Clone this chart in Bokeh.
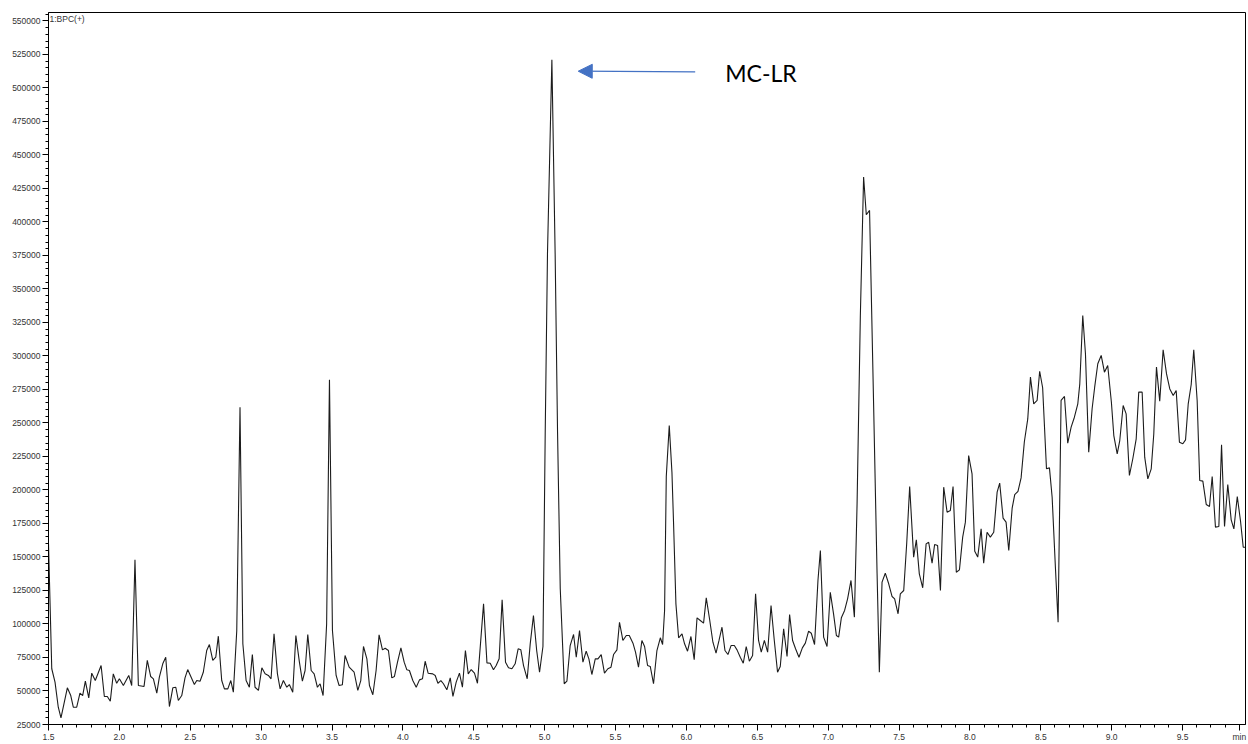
from bokeh.plotting import figure
from bokeh.models import (Range1d, SingleIntervalTicker, FixedTicker, PrintfTickFormatter, Label,
                          Arrow, NormalHead, ColumnDataSource)
from bokeh.embed import file_html
from bokeh.resources import INLINE

# Retention time (min)
time_min = [
    1.500, 1.523, 1.546, 1.569, 1.588, 1.609, 1.633, 1.657, 1.675, 1.699,
    1.722, 1.741, 1.760, 1.784, 1.805, 1.830, 1.871, 1.894, 1.915, 1.936,
    1.957, 1.981, 2.000, 2.028, 2.066, 2.087, 2.110, 2.134, 2.174, 2.197,
    2.221, 2.240, 2.264, 2.282, 2.306, 2.327, 2.353, 2.377, 2.398, 2.416,
    2.440, 2.463, 2.482, 2.529, 2.546, 2.569, 2.592, 2.616, 2.635, 2.659,
    2.680, 2.698, 2.722, 2.741, 2.765, 2.786, 2.804, 2.828, 2.851, 2.871,
    2.894, 2.917, 2.938, 2.957, 2.981, 3.005, 3.028, 3.051, 3.070, 3.091,
    3.115, 3.134, 3.157, 3.181, 3.199, 3.223, 3.245, 3.270, 3.291, 3.310,
    3.329, 3.353, 3.374, 3.397, 3.416, 3.437, 3.462, 3.482, 3.503, 3.529,
    3.550, 3.573, 3.592, 3.621, 3.656, 3.682, 3.703, 3.722, 3.746, 3.764,
    3.788, 3.811, 3.832, 3.856, 3.875, 3.898, 3.922, 3.940, 3.962, 3.986,
    4.009, 4.028, 4.046, 4.070, 4.094, 4.117, 4.138, 4.157, 4.178, 4.211,
    4.228, 4.247, 4.268, 4.286, 4.310, 4.334, 4.353, 4.376, 4.399, 4.420,
    4.441, 4.461, 4.482, 4.505, 4.526, 4.569, 4.593, 4.616, 4.639, 4.658,
    4.679, 4.700, 4.724, 4.745, 4.769, 4.792, 4.813, 4.832, 4.851, 4.877,
    4.898, 4.921, 4.944, 4.964, 4.988, 5.004, 5.020, 5.051, 5.074, 5.091,
    5.110, 5.138, 5.157, 5.180, 5.204, 5.223, 5.246, 5.270, 5.293, 5.312,
    5.333, 5.357, 5.376, 5.399, 5.422, 5.446, 5.468, 5.486, 5.510, 5.528,
    5.552, 5.576, 5.597, 5.623, 5.641, 5.662, 5.686, 5.705, 5.726, 5.745,
    5.768, 5.792, 5.816, 5.832, 5.846, 5.858, 5.879, 5.898, 5.909, 5.926,
    5.945, 5.969, 5.987, 6.008, 6.032, 6.055, 6.075, 6.098, 6.121, 6.140,
    6.163, 6.187, 6.209, 6.230, 6.251, 6.272, 6.293, 6.315, 6.338, 6.357,
    6.380, 6.401, 6.422, 6.444, 6.467, 6.488, 6.509, 6.528, 6.550, 6.573,
    6.597, 6.620, 6.643, 6.662, 6.686, 6.710, 6.728, 6.749, 6.770, 6.794,
    6.818, 6.839, 6.862, 6.881, 6.904, 6.928, 6.945, 6.968, 6.992, 7.015,
    7.038, 7.058, 7.074, 7.093, 7.116, 7.137, 7.161, 7.185, 7.204, 7.227,
    7.250, 7.269, 7.292, 7.321, 7.345, 7.361, 7.380, 7.403, 7.427, 7.451,
    7.469, 7.493, 7.509, 7.533, 7.554, 7.575, 7.603, 7.622, 7.643, 7.667,
    7.691, 7.709, 7.733, 7.751, 7.772, 7.792, 7.815, 7.839, 7.862, 7.881,
    7.904, 7.926, 7.949, 7.968, 7.991, 8.015, 8.034, 8.055, 8.079, 8.097,
    8.121, 8.144, 8.168, 8.192, 8.210, 8.234, 8.255, 8.274, 8.298, 8.316,
    8.339, 8.361, 8.384, 8.408, 8.427, 8.450, 8.474, 8.492, 8.513, 8.540,
    8.561, 8.580, 8.603, 8.622, 8.643, 8.667, 8.690, 8.714, 8.737, 8.761,
    8.775, 8.796, 8.815, 8.838, 8.862, 8.880, 8.902, 8.926, 8.949, 8.972,
    8.998, 9.015, 9.039, 9.057, 9.081, 9.102, 9.125, 9.149, 9.173, 9.191,
    9.215, 9.233, 9.255, 9.279, 9.297, 9.316, 9.339, 9.363, 9.387, 9.410,
    9.434, 9.455, 9.478, 9.502, 9.521, 9.540, 9.561, 9.579, 9.603, 9.621,
    9.643, 9.667, 9.690, 9.709, 9.732, 9.756, 9.775, 9.796, 9.819, 9.843,
    9.862, 9.886, 9.909, 9.928, 9.944,
]

# Base peak chromatogram intensity, BPC(+)
intensity = [
    160000, 66600, 56600, 37900, 30000, 40400, 52400, 46600, 37900, 37900,
    48400, 46600, 57300, 44900, 63300, 57800, 69000, 45900, 45900, 42400,
    62800, 55800, 59100, 54100, 61600, 54100, 147900, 54100, 53400, 72800,
    60800, 59100, 48400, 60300, 70300, 75200, 38400, 52400, 52800, 42900,
    46600, 59800, 66000, 54800, 57800, 57300, 64000, 80200, 84700, 72800,
    75200, 90900, 57800, 51600, 51600, 57800, 49100, 95000, 261800, 85200,
    57800, 52800, 77200, 52800, 50400, 67300, 62800, 61600, 59100, 92700,
    62800, 51600, 57800, 52800, 54800, 49100, 91400, 71500, 57300, 65300,
    92200, 65300, 62800, 52800, 55400, 46600, 100000, 282200, 95100, 61600,
    54100, 54600, 76500, 67800, 64000, 50400, 57800, 83200, 74000, 54100,
    47200, 65300, 91900, 80700, 81900, 80200, 59800, 60800, 71500, 82200,
    71500, 65800, 65300, 57800, 52800, 58300, 59100, 72200, 63300, 62800,
    61600, 55800, 57800, 55400, 50900, 59800, 45900, 56600, 63300, 52800,
    80200, 62800, 66000, 63300, 55800, 115000, 71000, 70700, 65800, 69000,
    74000, 118000, 71500, 67300, 66600, 70300, 81500, 80700, 69000, 59100,
    85000, 106300, 80000, 64000, 83200, 243000, 376400, 521000, 376400, 243000,
    126500, 55400, 57300, 83900, 92200, 75200, 95100, 71500, 79700, 74000,
    62300, 74000, 74000, 77200, 63300, 66600, 67800, 77200, 80700, 101300,
    87700, 91400, 91400, 85700, 79000, 67800, 87700, 83200, 69000, 68300,
    55400, 80200, 89700, 84700, 110000, 210000, 248100, 213000, 176500, 115000,
    89700, 92700, 85200, 79700, 90700, 73300, 104600, 102600, 100600, 119500,
    103900, 86400, 78200, 87700, 97600, 80200, 77200, 83900, 83900, 80700,
    75200, 70700, 83200, 72200, 76500, 122500, 87700, 79000, 87700, 79000,
    113800, 87700, 64000, 68300, 96400, 75700, 107100, 87700, 81500, 75200,
    82200, 85700, 94600, 93100, 84700, 132500, 154800, 90200, 83200, 123700,
    107600, 91400, 90200, 104600, 110100, 118800, 132500, 105100, 190000, 330000,
    433500, 405400, 408600, 261500, 137800, 64000, 131200, 137900, 130000, 120500,
    118800, 107600, 122500, 125000, 160000, 202600, 149900, 162800, 137400, 127000,
    159800, 161000, 145400, 159300, 158500, 125000, 202100, 183400, 184700, 202600,
    138600, 140400, 164800, 176000, 225700, 212000, 154300, 149900, 171000, 145400,
    168500, 164800, 168500, 198400, 205100, 179000, 176000, 154800, 186500, 196500,
    199000, 209000, 236000, 253000, 284200, 264300, 266800, 288600, 276300, 215800,
    216500, 194600, 142400, 101300, 266800, 269800, 234900, 246900, 254300, 264300,
    279200, 330200, 301600, 228200, 260600, 276700, 294200, 300400, 287900, 292900,
    265500, 240600, 227000, 236900, 263000, 256800, 210800, 223300, 238200, 273000,
    273000, 224500, 208300, 215800, 241800, 291700, 266300, 304600, 286600, 275400,
    270500, 274200, 235700, 234500, 237400, 264300, 278700, 304600, 266800, 207100,
    206600, 189200, 187700, 210100, 172300, 172800, 233700, 172800, 204100, 177700,
    171000, 195100, 176700, 157300, 157300,
]

# x-axis ticks: labelled every 0.5 min, the unit "min" written at the last minor tick
x_major_ticks = [1.5, 2.0, 2.5, 3.0, 3.5, 4.0, 4.5, 5.0, 5.5, 6.0, 6.5, 7.0, 7.5, 8.0, 8.5, 9.0, 9.5, 9.9]
x_major_labels = ["1.5", "2.0", "2.5", "3.0", "3.5", "4.0", "4.5", "5.0", "5.5", "6.0",
                  "6.5", "7.0", "7.5", "8.0", "8.5", "9.0", "9.5", "min"]
x_minor_ticks = [round(1.5 + 0.1 * i, 1) for i in range(0, 85)]

trace_name = "1:BPC(+)"
peak_label = "MC-LR"
peak_label_at = (6.274, 511000)
arrow_from = (6.062, 512000)
arrow_to = (5.237, 512500)

x_start, x_end = 1.5, 9.944
y_start, y_end = 25000, 556300

p = figure(frame_width=1197, frame_height=712, output_backend="svg",
           toolbar_location=None, x_range=Range1d(x_start, x_end),
           y_range=Range1d(y_start, y_end))
p.min_border_left = 48
p.min_border_right = 3
p.min_border_top = 12
p.min_border_bottom = 20
p.background_fill_color = "white"
p.border_fill_color = "white"
p.outline_line_color = "black"
p.outline_line_width = 1
p.grid.visible = False

src = ColumnDataSource(dict(t=time_min, v=intensity))
p.line("t", "v", source=src, line_color="#1c1c1c", line_width=1.1)

tick_font = "Liberation Sans"
for ax in (p.xaxis[0], p.yaxis[0]):
    ax.axis_line_color = "black"
    ax.axis_line_width = 1
    ax.major_tick_line_color = "black"
    ax.minor_tick_line_color = "black"
    ax.major_tick_in = 0
    ax.major_tick_out = 6
    ax.minor_tick_in = 0
    ax.minor_tick_out = 3
    ax.major_label_text_font = tick_font
    ax.major_label_text_font_size = "8.5px"
    ax.major_label_text_color = "#333333"

p.xaxis[0].ticker = FixedTicker(ticks=x_major_ticks, minor_ticks=x_minor_ticks)
p.xaxis[0].major_label_overrides = {t: s for t, s in zip(x_major_ticks, x_major_labels)}
p.xaxis[0].major_label_standoff = 1
p.yaxis[0].ticker = SingleIntervalTicker(interval=25000, num_minor_ticks=5)
p.yaxis[0].formatter = PrintfTickFormatter(format="%d")
p.yaxis[0].major_label_standoff = 2

p.add_layout(Label(x=x_start, y=y_end, x_offset=1, y_offset=-1, text=trace_name,
                   text_font=tick_font, text_font_size="8.5px", text_color="#333333",
                   text_baseline="top", text_align="left"))

p.add_layout(Arrow(end=NormalHead(size=14, fill_color="#4472C4", line_color="#4472C4"),
                   x_start=arrow_from[0], y_start=arrow_from[1],
                   x_end=arrow_to[0], y_end=arrow_to[1],
                   line_color="#4472C4", line_width=1.3))
p.add_layout(Label(x=peak_label_at[0], y=peak_label_at[1], text=peak_label,
                   text_font="Lato", text_font_size="23px", text_color="black",
                   text_baseline="middle", text_align="left"))

open("out.html", "w").write(file_html(p, INLINE))
